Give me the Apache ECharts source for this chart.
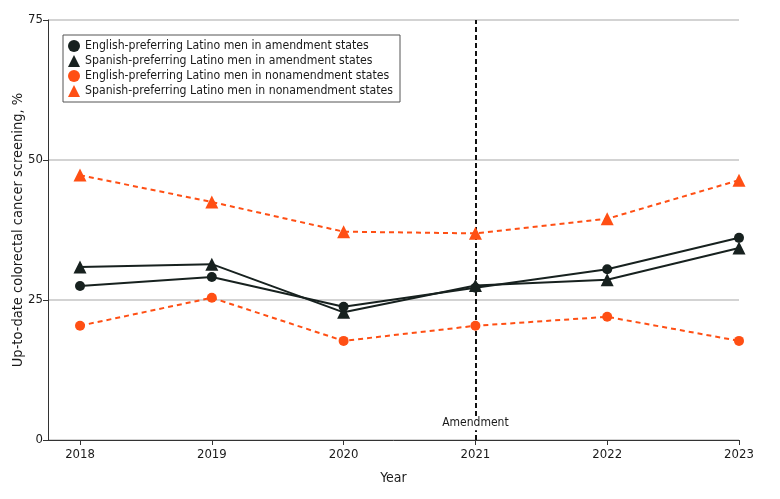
<!DOCTYPE html>
<html>
<head>
<meta charset="utf-8">
<script src="https://cdn.jsdelivr.net/npm/echarts@6/dist/echarts.min.js"></script>
<style>
  html, body { margin: 0; padding: 0; background: #fff; }
  #chart { width: 780px; height: 499px; }
</style>
</head>
<body>
<div id="chart"></div>
<script>
// 数据
const years = [2018, 2019, 2020, 2021, 2022, 2023]
const engAmend = [27.5, 29.1, 23.8, 27.2, 30.5, 36.1]
const spaAmend = [30.9, 31.4, 22.8, 27.6, 28.6, 34.3]
const engNon = [20.4, 25.4, 17.7, 20.4, 22.0, 17.7]
const spaNon = [47.3, 42.5, 37.2, 36.9, 39.5, 46.4]
const yTicks = [0, 25, 50, 75]
const amendYear = 2021

const FONT = '"DejaVu Sans Condensed", "Liberation Sans", sans-serif'
const BLACK = '#17211f'
const ORANGE = '#ff4f14'

function pts(arr) {
  return years.map((y, i) => [y, arr[i]])
}

const myChart = echarts.init(document.getElementById('chart'))

const option = {
  animation: false,
  textStyle: { fontFamily: FONT },
  grid: { left: 48, right: 41, top: 20, bottom: 59, outerBoundsMode: 'none', containLabel: false },
  legend: {
    left: 63,
    top: 35,
    orient: 'vertical',
    borderColor: '#555',
    borderWidth: 1,
    padding: [5, 7, 5, 5],
    itemGap: 3,
    itemWidth: 12,
    itemHeight: 12,
    backgroundColor: '#fff',
    textStyle: { fontFamily: FONT, fontSize: 12.2, color: '#1a1a1a' },
    data: [
      { name: 'English-preferring Latino men in amendment states', icon: 'circle' },
      { name: 'Spanish-preferring Latino men in amendment states', icon: 'triangle' },
      { name: 'English-preferring Latino men in nonamendment states', icon: 'circle' },
      { name: 'Spanish-preferring Latino men in nonamendment states', icon: 'triangle' }
    ]
  },
  xAxis: {
    type: 'value',
    min: 2017.757,
    max: 2023,
    name: 'Year',
    nameLocation: 'middle',
    nameGap: 31,
    nameTextStyle: { fontFamily: FONT, fontSize: 14, color: '#1a1a1a' },
    axisLine: { show: true, lineStyle: { color: '#333', width: 1 } },
    axisTick: { show: true, customValues: years, length: 5, lineStyle: { color: '#333' } },
    axisLabel: {
      customValues: years,
      fontFamily: FONT, fontSize: 13, color: '#1a1a1a', margin: 8,
      formatter: v => String(v)
    },
    splitLine: { show: false }
  },
  yAxis: {
    type: 'value',
    min: yTicks[0],
    max: yTicks[yTicks.length - 1],
    interval: 25,
    name: 'Up-to-date colorectal cancer screening, %',
    nameLocation: 'middle',
    nameGap: 22,
    nameMoveOverlap: false,
    nameTextStyle: { fontFamily: FONT, fontSize: 14.5, color: '#1a1a1a' },
    axisLine: { show: true, lineStyle: { color: '#333', width: 1 } },
    axisTick: { show: true, length: 5, lineStyle: { color: '#333' } },
    axisLabel: { fontFamily: FONT, fontSize: 13, color: '#1a1a1a', margin: 5 },
    splitLine: { show: true, lineStyle: { color: '#c4c4c4', width: 1.5 } }
  },
  series: [
    {
      name: 'Spanish-preferring Latino men in nonamendment states',
      type: 'line',
      data: pts(spaNon),
      symbol: 'triangle',
      symbolSize: 13,
      itemStyle: { color: ORANGE },
      lineStyle: { color: ORANGE, width: 2, type: [5, 4] },
      z: 3
    },
    {
      name: 'English-preferring Latino men in nonamendment states',
      type: 'line',
      data: pts(engNon),
      symbol: 'circle',
      symbolSize: 10,
      itemStyle: { color: ORANGE },
      lineStyle: { color: ORANGE, width: 2, type: [5, 4] },
      z: 3
    },
    {
      name: 'Spanish-preferring Latino men in amendment states',
      type: 'line',
      data: pts(spaAmend),
      symbol: 'triangle',
      symbolSize: 13,
      itemStyle: { color: BLACK },
      lineStyle: { color: BLACK, width: 2 },
      z: 4
    },
    {
      name: 'English-preferring Latino men in amendment states',
      type: 'line',
      data: pts(engAmend),
      symbol: 'circle',
      symbolSize: 10,
      itemStyle: { color: BLACK },
      lineStyle: { color: BLACK, width: 2 },
      z: 4,
      markLine: {
        silent: true,
        symbol: 'none',
        label: { show: false },
        lineStyle: { color: '#111', width: 2, type: [5, 3] },
        data: [[{ coord: [amendYear, 0] }, { coord: [amendYear, 75] }]],
        z: 2
      },
      markPoint: {
        silent: true,
        symbol: 'rect',
        symbolSize: 0.1,
        itemStyle: { color: 'transparent' },
        label: {
          show: true,
          position: 'inside',
          formatter: 'Amendment',
          fontFamily: FONT, fontSize: 12, color: '#1a1a1a',
          backgroundColor: '#fff',
          padding: [1, 2]
        },
        data: [{ coord: [amendYear, 3] }]
      }
    }
  ]
}

myChart.setOption(option)
</script>
</body>
</html>
